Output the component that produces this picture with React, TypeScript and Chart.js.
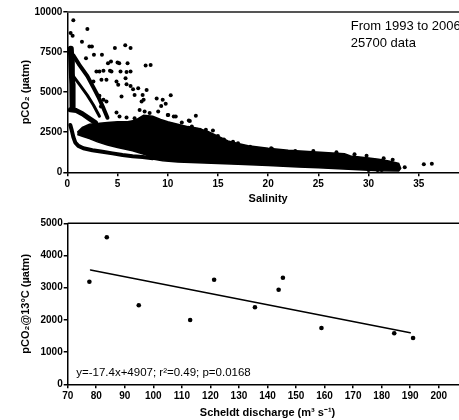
import React, { useEffect, useRef } from "react";
import { Chart, registerables } from "chart.js";
Chart.register(...registerables);

const FONT = '"Liberation Sans", Arial, Helvetica, sans-serif';

// ---------------- Top panel: pCO2 vs salinity ----------------
const salinityRange = [0, 40];
const salinityStep = 5;
const pco2Range = [0, 10000];
const pco2Step = 2500;

// dense cloud outline (upper edge left->right, then lower edge right->left)
const bandOutlineS = [
  1.0, 1.5, 2.2, 3, 4, 5, 6, 6.8, 7.6, 8.5, 9.3, 10, 11, 12, 13, 14, 15, 16, 17, 18, 20, 22, 24, 26, 27.6, 28.2, 30, 31, 32, 33, 33.2,
  33, 31, 29, 27, 25, 23, 20, 17, 15, 13, 11, 9.5, 8.5, 7.8, 6.5, 5, 4, 3, 2.2, 1.5, 1.0,
];
const bandOutlineV = [
  2500, 2800, 3000, 3050, 3100, 3150, 3150, 3250, 3550, 3500, 3300, 3150, 3000, 2850, 2750, 2550, 2250, 1950, 1800, 1650, 1500, 1380, 1290, 1220, 1150, 1020, 900, 820, 700, 560, 250,
  80, 100, 160, 220, 280, 330, 430, 500, 550, 600, 650, 720, 820, 1100, 1350, 1550, 1700, 1900, 2100, 2250, 2350,
];

// dense streaks at low salinity
const columnS = [0.35, 0.4, 0.45, 0.5, 0.55, 0.5];
const columnV = [7700, 7000, 6200, 5500, 4600, 4000];
const streakAS = [0.6, 1.2, 2.0, 2.6, 3.1, 3.6, 4.0];
const streakAV = [7300, 6700, 6000, 5300, 4700, 4000, 3400];
const streakBS = [0.6, 1.3, 2.0, 2.6, 3.2];
const streakBV = [6000, 5400, 4800, 4200, 3500];
const ridgeS = [0.3, 0.9, 1.5, 2.2, 2.8];
const ridgeV = [3900, 3850, 3650, 3350, 3100];
const lowerCurveS = [0.3, 0.45, 0.6, 0.8, 1.1, 1.6, 2.5, 3.5, 4.5, 5.5, 6.5, 7.5, 8.5];
const lowerCurveV = [2950, 2600, 2200, 1850, 1650, 1500, 1380, 1280, 1180, 1080, 1000, 950, 880];

// scattered individual measurements
const outlierS = [
  0.6, 2.0, 0.33, 0.53, 1.46, 2.2, 2.45, 4.74, 5.77, 6.3, 2.65, 3.45, 1.86, 4.05, 4.35, 5.0, 5.17, 6.0, 7.8, 8.3,
  2.9, 3.2, 3.6, 4.25, 4.4, 5.3, 5.9, 6.3, 3.9, 3.4, 2.6, 4.9, 5.07, 5.8, 5.9, 6.55, 6.3, 7.06, 7.9, 7.5,
  6.7, 5.4, 8.9, 9.5, 10.3, 9.35, 9.8, 7.4, 7.6, 7.2, 7.7, 9.05, 10.05, 10.6, 12.1, 12.8, 12.4, 13.2, 14.5, 15.0,
  4.9, 5.2, 5.9, 6.7, 3.2, 3.6, 3.9, 3.35, 16.5, 17.0, 20.4, 22.7, 29.8, 33.6, 35.5, 36.3, 30.9, 30.0, 31.3,
  10.0, 10.8, 12.2, 14.35, 18.2, 20.3, 24.5, 26.8, 28.6, 31.5, 32.4, 8.2, 11.4, 13.8, 15.6,
];
const outlierV = [
  9480, 8940, 8690, 8520, 8140, 7850, 7850, 7750, 7920, 7750, 7330, 7330, 7120, 6810, 6910, 6850, 6810, 6810, 6670, 6700,
  6290, 6290, 6330, 6330, 6290, 6290, 6250, 6290, 5770, 5770, 5665, 5665, 5460, 5870, 5500, 5180, 5390, 5250, 5140, 4830,
  4830, 4730, 4600, 4520, 4810, 4140, 4270, 4415, 4520, 3890, 3790, 3790, 3580, 3480, 3230, 3520, 2850, 2650, 2600, 2270,
  3730, 3480, 3420, 3370, 4770, 4520, 4415, 4100, 1910, 1810, 1460, 1330, 1040, 310, 500, 540, 140, 140, 140,
  3580, 3480, 3200, 2225, 1600, 1500, 1330, 1250, 1120, 870, 780, 3700, 3100, 2650, 2050,
];

const topNoteLines = ["From 1993 to 2006", "25700 data"];

// ---------------- Bottom panel: pCO2@13°C vs discharge ----------------
const dischargeRange = [70, 210];
const dischargeStep = 10;
const pco13Range = [0, 5000];
const pco13Step = 1000;

const discharge = [77.6, 83.7, 94.9, 112.9, 121.3, 135.6, 143.9, 145.4, 158.9, 184.4, 191];
const pco2At13 = [3186, 4565, 2453, 1997, 3249, 2391, 2938, 3311, 1748, 1584, 1438];
const fitX = [78, 190];
const fitY = [3550, 1600];
const fitNote = "y=-17.4x+4907; r\u00B2=0.49; p=0.0168";

// ---------------- helpers ----------------
const zip = (xs: number[], ys: number[]) => xs.map((x, i) => ({ x, y: ys[i] }));

function lineSet(xs: number[], ys: number[], width: number) {
  return {
    data: zip(xs, ys),
    showLine: true,
    borderColor: "#000",
    borderWidth: width,
    borderCapStyle: "round",
    borderJoinStyle: "round",
    pointRadius: 0,
    tension: 0,
    fill: false,
  };
}

const plainNumber = (v: any) => String(v);

function axisX(range: number[], step: number, title: string, titlePadBottom: number, height: number) {
  return {
    type: "linear",
    min: range[0],
    max: range[1],
    ticks: {
      stepSize: step,
      autoSkip: false,
      maxRotation: 0,
      padding: 2,
      color: "#000",
      font: { family: FONT, size: 10, weight: "bold" },
      callback: plainNumber,
    },
    grid: { drawOnChartArea: false, drawTicks: true, tickLength: 4, color: "#000", lineWidth: 1.5 },
    border: { display: true, color: "#000", width: 1.5 },
    title: {
      display: true,
      text: title,
      color: "#000",
      font: { family: FONT, size: 11, weight: "bold" },
      padding: { top: 0, bottom: titlePadBottom },
    },
    afterFit: (s: any) => {
      s.height = height;
    },
  };
}

function axisY(range: number[], step: number, title: string, width: number) {
  return {
    type: "linear",
    min: range[0],
    max: range[1],
    ticks: {
      stepSize: step,
      autoSkip: false,
      padding: 1,
      color: "#000",
      font: { family: FONT, size: 10, weight: "bold" },
      callback: plainNumber,
    },
    grid: { drawOnChartArea: false, drawTicks: true, tickLength: 4, color: "#000", lineWidth: 1.5 },
    border: { display: true, color: "#000", width: 1.5 },
    title: {
      display: true,
      text: title,
      color: "#000",
      font: { family: FONT, size: 11, weight: "bold" },
      padding: { top: 19, bottom: 0 },
    },
    afterFit: (s: any) => {
      s.width = width;
    },
  };
}

function decorPlugin(id: string, topColor: string, topWidth: number, lines: string[], font: string, dx: number, dy: number, lh: number) {
  return {
    id,
    afterDraw(chart: any) {
      const { ctx, chartArea } = chart;
      ctx.save();
      ctx.strokeStyle = topColor;
      ctx.lineWidth = topWidth;
      ctx.beginPath();
      ctx.moveTo(chartArea.left, chartArea.top);
      ctx.lineTo(chartArea.right, chartArea.top);
      ctx.stroke();
      ctx.fillStyle = "#000";
      ctx.font = font;
      ctx.textBaseline = "middle";
      ctx.textAlign = "left";
      lines.forEach((t, i) => ctx.fillText(t, chartArea.left + dx, chartArea.top + dy + i * lh));
      ctx.restore();
    },
  };
}

const CW = 480;
const CH = 210;

function TopChart() {
  const ref = useRef<HTMLCanvasElement | null>(null);
  useEffect(() => {
    const chart = new Chart(ref.current as HTMLCanvasElement, {
      type: "line",
      data: {
        datasets: [
          {
            data: zip(bandOutlineS, bandOutlineV),
            showLine: true,
            borderColor: "#000",
            borderWidth: 1.5,
            backgroundColor: "#000",
            pointRadius: 0,
            tension: 0,
            fill: "shape",
          },
          lineSet(columnS, columnV, 6),
          lineSet(streakAS, streakAV, 4),
          lineSet(streakBS, streakBV, 3),
          lineSet(ridgeS, ridgeV, 5),
          lineSet(lowerCurveS, lowerCurveV, 4),
          {
            data: zip(outlierS, outlierV),
            showLine: false,
            pointRadius: 2,
            pointBorderWidth: 0,
            pointBackgroundColor: "#000",
            backgroundColor: "#000",
            borderColor: "#000",
          },
        ],
      } as any,
      options: {
        animation: false,
        responsive: false,
        devicePixelRatio: 1,
        layout: { padding: { left: 0, right: 11, top: 12, bottom: 0 } },
        plugins: { legend: { display: false }, tooltip: { enabled: false } },
        scales: {
          x: axisX(salinityRange, salinityStep, "Salinity", 4.4, 37.7),
          y: axisY(pco2Range, pco2Step, "pCO\u2082 (\u00B5atm)", 67.3),
        },
      } as any,
      plugins: [decorPlugin("topDecor", "#555", 2, topNoteLines, `13px ${FONT}`, 283.5, 14, 17)],
    });
    return () => chart.destroy();
  }, []);
  return <canvas ref={ref} width={CW} height={CH} style={{ display: "block", width: CW, height: CH }} />;
}

function BottomChart() {
  const ref = useRef<HTMLCanvasElement | null>(null);
  useEffect(() => {
    const chart = new Chart(ref.current as HTMLCanvasElement, {
      type: "line",
      data: {
        datasets: [
          {
            data: zip(discharge, pco2At13),
            showLine: false,
            pointRadius: 2.3,
            pointBorderWidth: 0,
            pointBackgroundColor: "#000",
            backgroundColor: "#000",
            borderColor: "#000",
          },
          lineSet(fitX, fitY, 1.5),
        ],
      } as any,
      options: {
        animation: false,
        responsive: false,
        devicePixelRatio: 1,
        layout: { padding: { left: 0, right: 12.7, top: 13.3, bottom: 0 } },
        plugins: { legend: { display: false }, tooltip: { enabled: false } },
        scales: {
          x: axisX(dischargeRange, dischargeStep, "Scheldt discharge (m\u00B3 s\u207B\u00B9)", 0.4, 35.7),
          y: axisY(pco13Range, pco13Step, "pCO\u2082@13\u00B0C (\u00B5atm)", 67.7),
        },
      } as any,
      plugins: [decorPlugin("bottomDecor", "#000", 1.5, [fitNote], `11.5px ${FONT}`, 8.5, 149.7, 0)],
    });
    return () => chart.destroy();
  }, []);
  return <canvas ref={ref} width={CW} height={CH} style={{ display: "block", width: CW, height: CH }} />;
}

export default function App() {
  return (
    <div
      style={{
        position: "absolute",
        left: 0,
        top: 0,
        width: 459,
        height: 420,
        overflow: "hidden",
        background: "#fff",
      }}
    >
      <TopChart />
      <BottomChart />
    </div>
  );
}
